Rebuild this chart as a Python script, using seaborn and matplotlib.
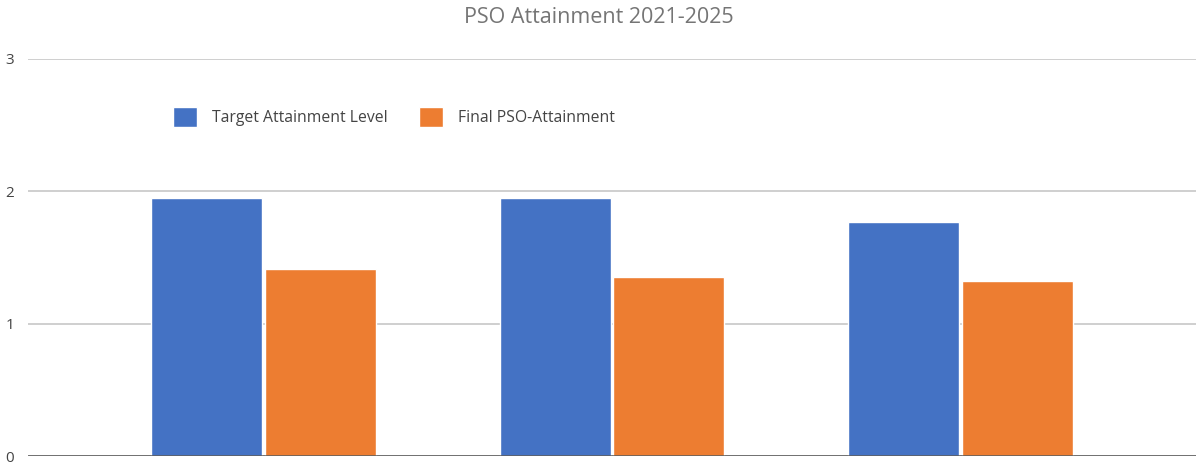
import pandas as pd
import seaborn as sns
import matplotlib.pyplot as plt

# Dados
periods = ['2021-22', '2022-23', '2023-24']
series = ['Target Attainment Level', 'Final PSO-Attainment']
target = [1.95, 1.95, 1.77]
final = [1.41, 1.35, 1.32]
colors = ['#4472C4', '#ED7D31']

df = pd.DataFrame({
    'period': periods * 2,
    'serie': [series[0]] * 3 + [series[1]] * 3,
    'value': target + final,
})

sns.set_style('white')
plt.rcParams['font.family'] = ['Open Sans', 'DejaVu Sans']

fig = plt.figure(figsize=(11.98, 4.63), dpi=100)
ax = fig.add_axes([0.0234, 0.0151, 0.975, 0.8575])

sns.barplot(data=df, x='period', y='value', hue='serie', palette=colors,
            width=0.65, gap=0.02, saturation=1, ax=ax)

ax.set_ylim(0, 3)
ax.set_xlim(-0.676, 2.676)
ax.set_yticks([0, 1, 2, 3])
ax.yaxis.grid(True, color='#cccccc', linewidth=1.3)
ax.set_axisbelow(True)
ax.axhline(0, color='#555555', linewidth=1.8, zorder=5)
for s in ax.spines.values():
    s.set_visible(False)
ax.tick_params(axis='y', length=0, pad=10, labelsize=11, labelcolor='#444444')
ax.set_xticks([])
ax.set_xlabel('')
ax.set_ylabel('')

fig.suptitle('PSO Attainment 2021-2025', y=0.985, fontsize=15.5, color='#757575')

ax.legend(loc='center left', bbox_to_anchor=(0.112, 0.854), ncol=2, frameon=False,
          fontsize=11.3, labelcolor='#444444', handlelength=1.5, handleheight=1.5,
          handletextpad=1.0, columnspacing=2.0)

fig.savefig('out.png', dpi=100)
